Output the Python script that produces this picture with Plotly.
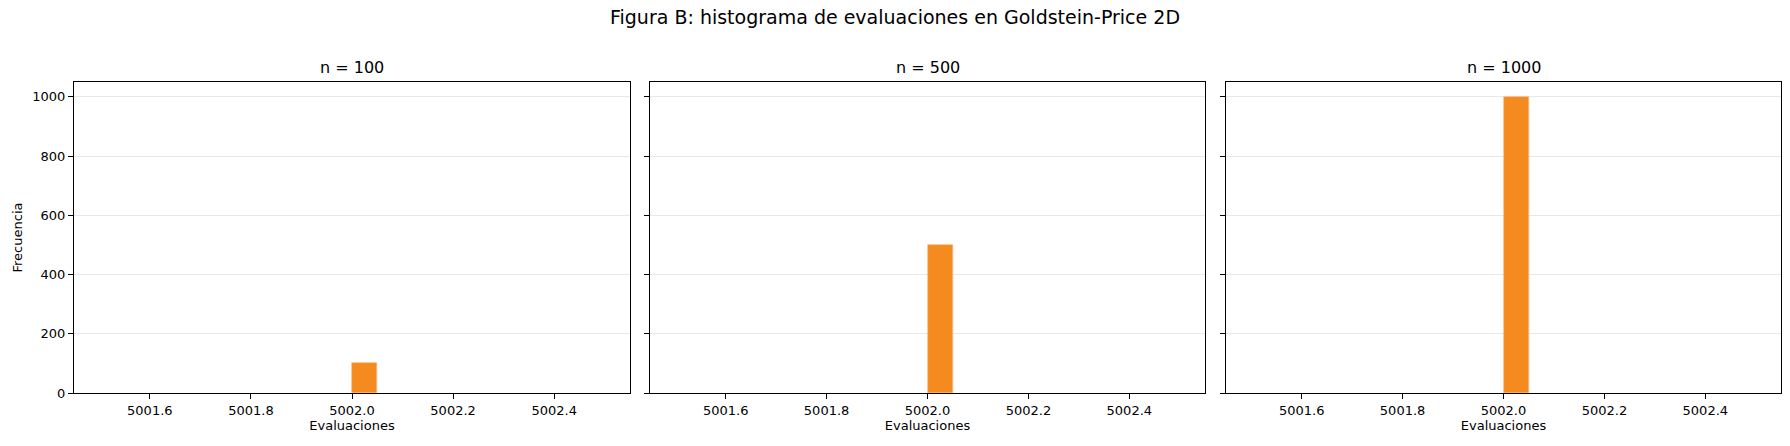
import plotly.graph_objects as go

# histogram data
sample_sizes = [100, 500, 1000]
bin_lo, bin_hi, n_bins = 5001.5, 5002.5, 20
eval_bin = 5002.0          # every run used 5002 evaluations
counts = [100, 500, 1000]  # height of the single non-empty bin per panel
x_ticks = [5001.6, 5001.8, 5002.0, 5002.2, 5002.4]
y_ticks = [0, 200, 400, 600, 800, 1000]

bin_w = (bin_hi - bin_lo) / n_bins
edges = [round(bin_lo + i*bin_w, 4) for i in range(n_bins)]

W, H = 1790, 446
ml, mr, mt, mb = 74, 9, 82, 53
pw = W - ml - mr
panels_px = [(74, 630), (650, 1205), (1226, 1781)]
domains = [[(a-ml)/pw, (b-ml)/pw] for a, b in panels_px]

FONT = 'DejaVu Sans'
bar_color = 'rgba(245,138,31,1)'

fig = go.Figure()
for i, (n, c) in enumerate(zip(sample_sizes, counts)):
	# empty bins left as None so nothing is drawn for them
	heights = [c if abs(e - eval_bin) < 1e-9 else None for e in edges]
	fig.add_trace(go.Bar(x=edges, y=heights, width=bin_w, offset=0,
		marker=dict(color=bar_color, line=dict(color='rgba(250,180,120,1)', width=0.6)),
		xaxis='x' if i == 0 else f'x{i+1}', yaxis='y' if i == 0 else f'y{i+1}',
		showlegend=False, hoverinfo='x+y'))

axis_common = dict(showline=True, linecolor='black', linewidth=1, mirror=True,
	ticks='outside', ticklen=5, tickcolor='black', tickwidth=1, automargin=False,
	tickfont=dict(family=FONT, size=13, color='black'), zeroline=False)

layout = dict(width=W, height=H, plot_bgcolor='white', paper_bgcolor='white',
	margin=dict(l=ml, r=mr, t=mt, b=mb), bargap=0, showlegend=False,
	font=dict(family=FONT, color='black'))

for i in range(3):
	sfx = '' if i == 0 else str(i+1)
	layout['xaxis'+sfx] = dict(domain=domains[i], range=[5001.45, 5002.55],
		tickvals=x_ticks, ticktext=[f'{v:.1f}' for v in x_ticks], showgrid=False,
		title=dict(text='Evaluaciones', font=dict(family=FONT, size=13), standoff=4),
		anchor='y'+sfx, **axis_common)
	layout['yaxis'+sfx] = dict(domain=[0, 1], range=[0, 1050], tickvals=y_ticks,
		showgrid=True, gridcolor='#e8e8e8', gridwidth=1, showticklabels=(i == 0),
		anchor='x'+sfx, **axis_common)
	if i == 0:
		layout['yaxis']['title'] = dict(text='Frecuencia', font=dict(family=FONT, size=13), standoff=6)

fig.update_layout(**layout)

fig.update_layout(title=dict(text='Figura B: histograma de evaluaciones en Goldstein-Price 2D',
	x=0.5, xanchor='center', y=1-17/H, yanchor='middle', yref='container',
	font=dict(family=FONT, size=19, color='black')))

for i, n in enumerate(sample_sizes):
	fig.add_annotation(text=f'n = {n}', xref='paper', yref='paper',
		x=sum(domains[i])/2, y=1, xanchor='center', yanchor='bottom', yshift=3,
		showarrow=False, font=dict(family=FONT, size=16, color='black'))

# page body has a default 8px margin, drop it so the figure sits at 0,0
fig.write_html('out.html', config={'displayModeBar': False},
	post_script="document.body.style.margin='0';")
